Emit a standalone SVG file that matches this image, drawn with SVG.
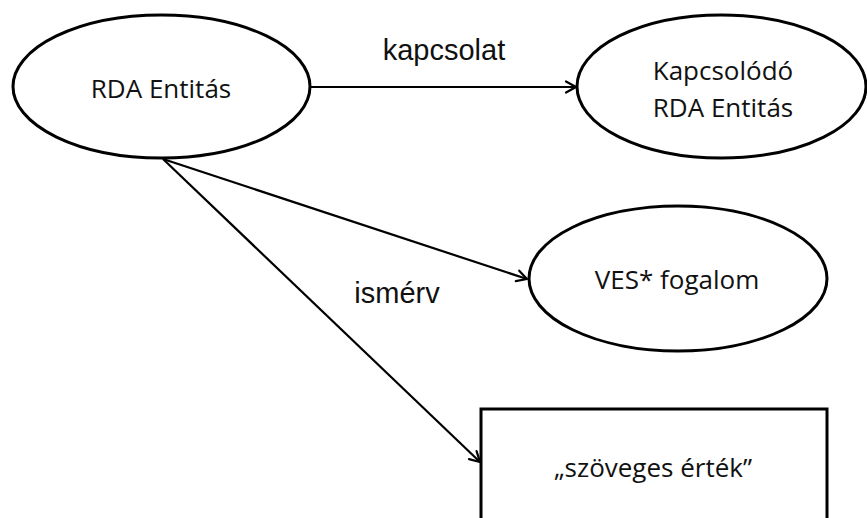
<svg xmlns="http://www.w3.org/2000/svg" width="867" height="518" viewBox="0 0 867 518">
<style>
.node{fill:#fff;stroke:#000;stroke-width:3}
.lbl{font-family:"Open Sans","Noto Sans",sans-serif;font-size:26px;fill:#111;text-anchor:middle}
.elbl{font-family:"Liberation Sans",Arial,sans-serif;font-size:29px;fill:#111;text-anchor:middle}
.edge{fill:none;stroke:#000;stroke-width:2.2}
</style>
<defs>
<marker id="arr" markerUnits="userSpaceOnUse" viewBox="0 0 14 14" refX="12" refY="7" markerWidth="14" markerHeight="14" orient="auto">
<path d="M2,1.5 L12,7 L2,12.5" fill="none" stroke="#000" stroke-width="2.2" stroke-linecap="round" stroke-linejoin="round"/>
</marker>
</defs>
<rect width="867" height="518" fill="#fff"/>
<g id="edges">
<line class="edge" x1="310" y1="87" x2="576" y2="87" marker-end="url(#arr)"/>
<line class="edge" x1="163" y1="159" x2="527" y2="279" marker-end="url(#arr)"/>
<line class="edge" x1="163" y1="159" x2="480" y2="462" marker-end="url(#arr)"/>
<text class="elbl" x="444" y="60">kapcsolat</text>
<text class="elbl" x="397" y="303">ismérv</text>
</g>
<g id="rda">
<ellipse class="node" cx="161.5" cy="86.5" rx="148.5" ry="71.5"/>
<text class="lbl" x="161" y="98">RDA Entitás</text>
</g>
<g id="kapcsolodo">
<ellipse class="node" cx="721.5" cy="86.5" rx="144.5" ry="71.5"/>
<text class="lbl" x="723" y="80">Kapcsolódó</text>
<text class="lbl" x="723" y="117">RDA Entitás</text>
</g>
<g id="ves">
<ellipse class="node" cx="678" cy="278.5" rx="149" ry="72.5"/>
<text class="lbl" x="677" y="289">VES* fogalom</text>
</g>
<g id="szoveges">
<rect class="node" x="481" y="409" width="346" height="130"/>
<text class="lbl" x="653" y="477">„szöveges érték”</text>
</g>
</svg>
